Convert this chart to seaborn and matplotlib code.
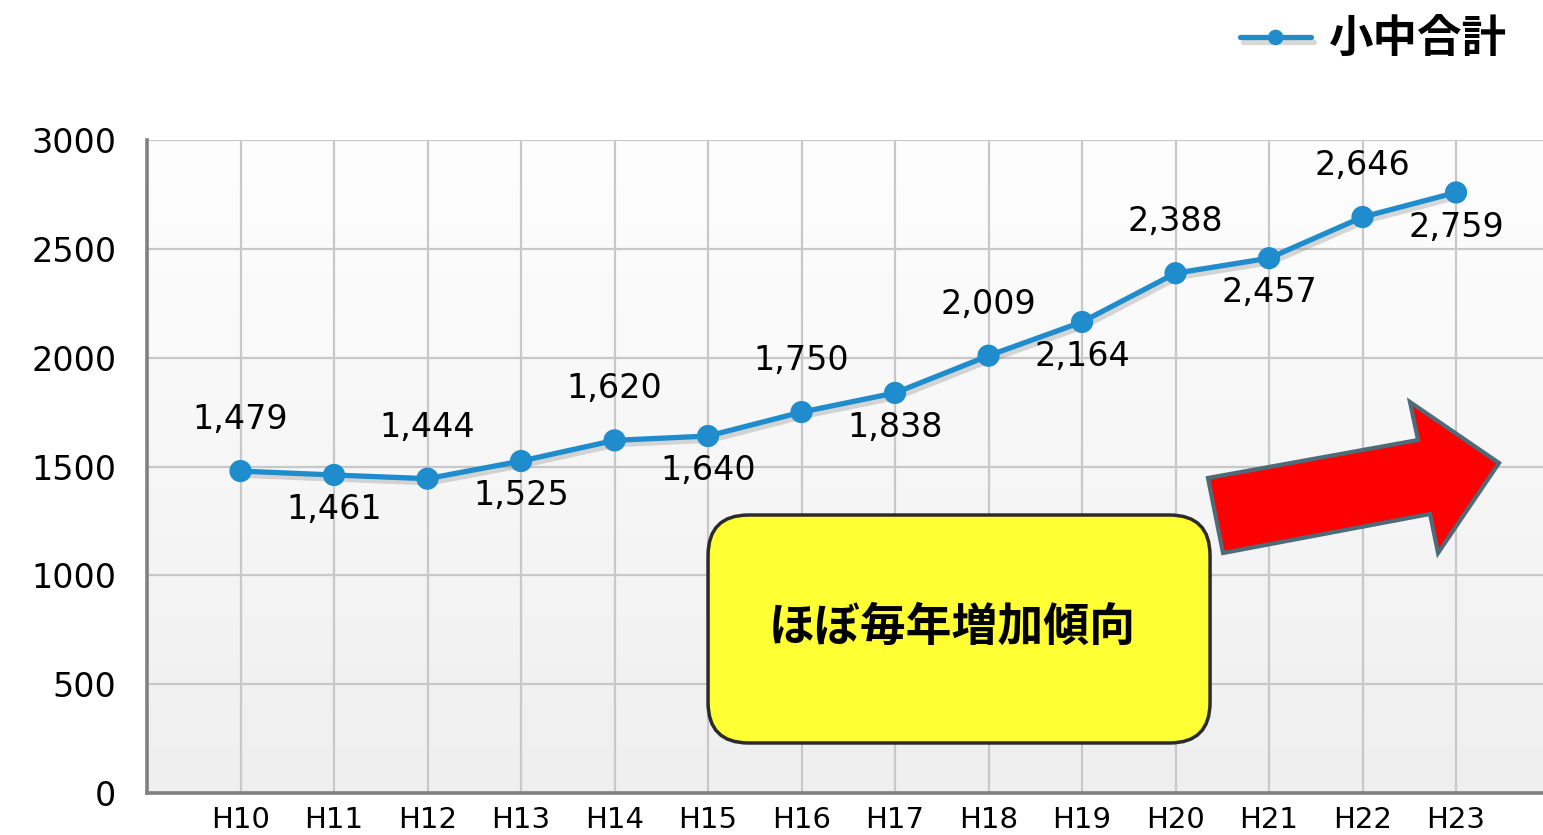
import matplotlib
matplotlib.use('Agg')
import matplotlib.pyplot as plt
import matplotlib.patheffects as pe
from matplotlib.patches import FancyBboxPatch, Polygon
from matplotlib.font_manager import FontProperties
import numpy as np
import seaborn as sns

# data
years = ['H10', 'H11', 'H12', 'H13', 'H14', 'H15', 'H16',
         'H17', 'H18', 'H19', 'H20', 'H21', 'H22', 'H23']
totals = [1479, 1461, 1444, 1525, 1620, 1640, 1750,
          1838, 2009, 2164, 2388, 2457, 2646, 2759]
series_name = '小中合計'
note_text = 'ほぼ毎年増加傾向'
yticks = [0, 500, 1000, 1500, 2000, 2500, 3000]

sns.set_style('white')
plt.rcParams['font.family'] = ['DejaVu Sans', 'Noto Sans CJK JP']
plt.rcParams['text.color'] = 'black'
plt.rcParams['xtick.labelcolor'] = 'black'
plt.rcParams['ytick.labelcolor'] = 'black'

fig = plt.figure(figsize=(15.43, 8.35), dpi=100)
ax = fig.add_axes([147 / 1543, 42 / 835, 1396 / 1543, 653 / 835])

# soft gradient background of the plot area
grad = np.linspace(0, 1, 256).reshape(-1, 1)
ax.imshow(grad, extent=[0, 1, 0, 1], transform=ax.transAxes, aspect='auto',
          cmap=matplotlib.colors.LinearSegmentedColormap.from_list('bg', ['#fefefe', '#efefef']),
          zorder=-10)

sns.lineplot(x=years, y=totals, marker='o', color='#1e8ccd', linewidth=3.8,
             markersize=16, markeredgewidth=0, ax=ax, legend=False)
line = ax.lines[0]
line.set_path_effects([pe.SimpleLineShadow(offset=(2, -3), shadow_color='#808080', alpha=0.3),
                       pe.Normal()])

# value labels, alternating above / below
for i, v in enumerate(totals):
    dy = 37 if i % 2 == 0 else -25
    ax.annotate(f'{v:,}', (i, v), xytext=(0, dy), textcoords='offset points',
                ha='center', va='center', fontsize=24, color='black')

ax.set_xlim(-1, 13.93)
ax.set_ylim(0, 3000)
ax.set_yticks(yticks)
ax.set_yticklabels([str(t) for t in yticks])
ax.set_xlabel('')
ax.set_ylabel('')
ax.grid(True, color='#c8c8c8', linewidth=1.6)
ax.set_axisbelow(True)
ax.tick_params(axis='y', length=14, width=2, color='#8a8a8a', pad=8, labelsize=24)
ax.tick_params(axis='x', length=0, pad=9, labelsize=21)
for s in ['top', 'right']:
    ax.spines[s].set_visible(False)
for s in ['left', 'bottom']:
    ax.spines[s].set_color('#808080')
    ax.spines[s].set_linewidth(2.6)

# yellow note box
box = FancyBboxPatch((0.4019, 0.0766), 0.3596, 0.3491,
                     boxstyle='round,pad=0,rounding_size=0.029', mutation_aspect=1396 / 653,
                     transform=ax.transAxes, facecolor='#ffff33', edgecolor='#2b2b2b',
                     linewidth=2.5, zorder=5)
ax.add_patch(box)
ax.text(0.577, 0.2527, note_text, transform=ax.transAxes, ha='center', va='center',
        fontsize=33, fontweight='bold', family='Noto Sans CJK JP', color='black', zorder=6)

# red arrow
arrow_pts = [(0.760, 0.4824), (0.9105, 0.5406), (0.9047, 0.5988), (0.9685, 0.5054),
             (0.9248, 0.3675), (0.9191, 0.4273), (0.7708, 0.3675)]
ax.add_patch(Polygon(arrow_pts, closed=True, transform=ax.transAxes, facecolor='#ff0000',
                     edgecolor='#4d6b78', linewidth=3, zorder=5))

# legend at top right
fig.legend(handles=[line], labels=[series_name], loc='center right',
           bbox_to_anchor=(1507 / 1543, 1 - 40 / 835), frameon=False,
           prop=FontProperties(family='Noto Sans CJK JP', weight='bold', size=32),
           handlelength=1.6, handletextpad=0.4, borderpad=0, borderaxespad=0,
           markerscale=0.7)

fig.savefig('out.png', dpi=100)
